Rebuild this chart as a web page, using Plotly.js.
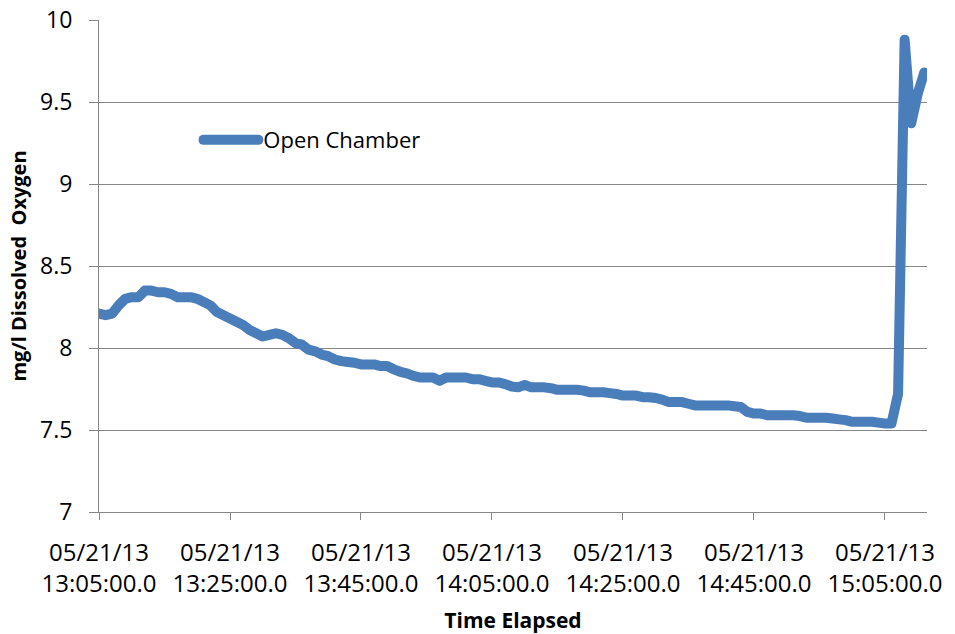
<!DOCTYPE html>
<html>
<head>
<meta charset="utf-8">
<script src="https://cdn.plot.ly/plotly-3.0.1.min.js"></script>
<style>
html,body{margin:0;padding:0;background:#fff;}
#chart{width:955px;height:634px;}
#chart .scatterlayer path.js-line{stroke-linejoin:round;stroke-linecap:round;}
#chart .legendlines path{stroke-linecap:round;}
</style>
</head>
<body>
<div id="chart"></div>
<script>
const dateStr = "2013-05-21";
const times = [
"13:05","13:06","13:07","13:08","13:09","13:10","13:11","13:12","13:13","13:14",
"13:15","13:16","13:17","13:18","13:19","13:20","13:21","13:22","13:23","13:24",
"13:25","13:26","13:27","13:28","13:29","13:30","13:31","13:32","13:33","13:34",
"13:35","13:36","13:37","13:38","13:39","13:40","13:41","13:42","13:43","13:44",
"13:45","13:46","13:47","13:48","13:49","13:50","13:51","13:52","13:53","13:54",
"13:55","13:56","13:57","13:58","13:59","14:00","14:01","14:02","14:03","14:04",
"14:05","14:06","14:07","14:08","14:09","14:10","14:11","14:12","14:13","14:14",
"14:15","14:16","14:17","14:18","14:19","14:20","14:21","14:22","14:23","14:24",
"14:25","14:26","14:27","14:28","14:29","14:30","14:31","14:32","14:33","14:34",
"14:35","14:36","14:37","14:38","14:39","14:40","14:41","14:42","14:43","14:44",
"14:45","14:46","14:47","14:48","14:49","14:50","14:51","14:52","14:53","14:54",
"14:55","14:56","14:57","14:58","14:59","15:00","15:01","15:02","15:03","15:04",
"15:05","15:06","15:07","15:08","15:09","15:10","15:11"
];
const openChamber = [
8.21,8.20,8.21,8.26,8.30,8.31,8.31,8.35,8.35,8.34,
8.34,8.33,8.31,8.31,8.31,8.30,8.28,8.26,8.22,8.20,
8.18,8.16,8.14,8.11,8.09,8.07,8.08,8.09,8.08,8.06,
8.03,8.02,7.99,7.98,7.96,7.95,7.93,7.92,7.915,7.91,
7.90,7.90,7.90,7.89,7.89,7.87,7.855,7.845,7.83,7.82,
7.82,7.82,7.80,7.82,7.82,7.82,7.82,7.81,7.81,7.80,
7.79,7.79,7.78,7.765,7.76,7.775,7.76,7.76,7.76,7.755,
7.745,7.745,7.745,7.745,7.74,7.73,7.73,7.73,7.725,7.72,
7.71,7.71,7.71,7.70,7.70,7.695,7.685,7.67,7.67,7.67,
7.66,7.65,7.65,7.65,7.65,7.65,7.65,7.645,7.64,7.61,
7.60,7.60,7.59,7.59,7.59,7.59,7.59,7.585,7.575,7.575,
7.575,7.575,7.57,7.565,7.56,7.55,7.55,7.55,7.55,7.545,
7.54,7.54,7.72,9.88,9.37,9.55,9.68
];
const seriesName = "Open Chamber";
const xTitle = "Time Elapsed";
const yTitle = "mg/l Dissolved  Oxygen";

const xs = times.map(t => dateStr + " " + t + ":00");
const fontFam = "'Open Sans', 'Liberation Sans', sans-serif";
const gray = "#868686";

const trace = {
  x: xs, y: openChamber, name: seriesName, type: "scatter", mode: "lines",
  line: {color: "#4a7ebb", width: 10, simplify: false}
};

const layout = {
  width: 955, height: 634,
  margin: {l: 99, r: 28, t: 20, b: 122},
  paper_bgcolor: "#ffffff", plot_bgcolor: "#ffffff",
  font: {family: fontFam, color: "#000", size: 23},
  showlegend: true,
  legend: {x: 0.12, y: 0.756, xanchor: "left", yanchor: "middle",
           bgcolor: "rgba(0,0,0,0)", font: {size: 22, color: "#000"}, itemwidth: 55},
  xaxis: {
    type: "date",
    range: [dateStr + " 13:05:00", dateStr + " 15:11:25"],
    tick0: dateStr + " 13:05:00", dtick: 1200000,
    tickformat: "%m/%d/%y<br>%H:%M:%S.0",
    showgrid: false, zeroline: false,
    showline: true, linecolor: gray, linewidth: 1,
    ticks: "outside", ticklen: 7, tickcolor: gray, tickwidth: 1,
    ticklabelstandoff: 12,
    tickfont: {size: 24, color: "#000"},
    title: {text: xTitle, font: {size: 21, color: "#000", family: fontFam, weight: "bold"}, standoff: 18},
    fixedrange: true
  },
  yaxis: {
    range: [7, 10], dtick: 0.5, tick0: 7,
    showgrid: true, gridcolor: gray, gridwidth: 1, zeroline: false,
    showline: true, linecolor: gray, linewidth: 1,
    ticks: "outside", ticklen: 9, tickcolor: gray, tickwidth: 1,
    ticklabelstandoff: 12,
    tickfont: {size: 23, color: "#000"},
    title: {text: yTitle, font: {size: 20, color: "#000", family: fontFam, weight: "bold"}, standoff: 8},
    fixedrange: true
  }
};

Plotly.newPlot("chart", [trace], layout, {displayModeBar: false, staticPlot: true});
</script>
</body>
</html>
